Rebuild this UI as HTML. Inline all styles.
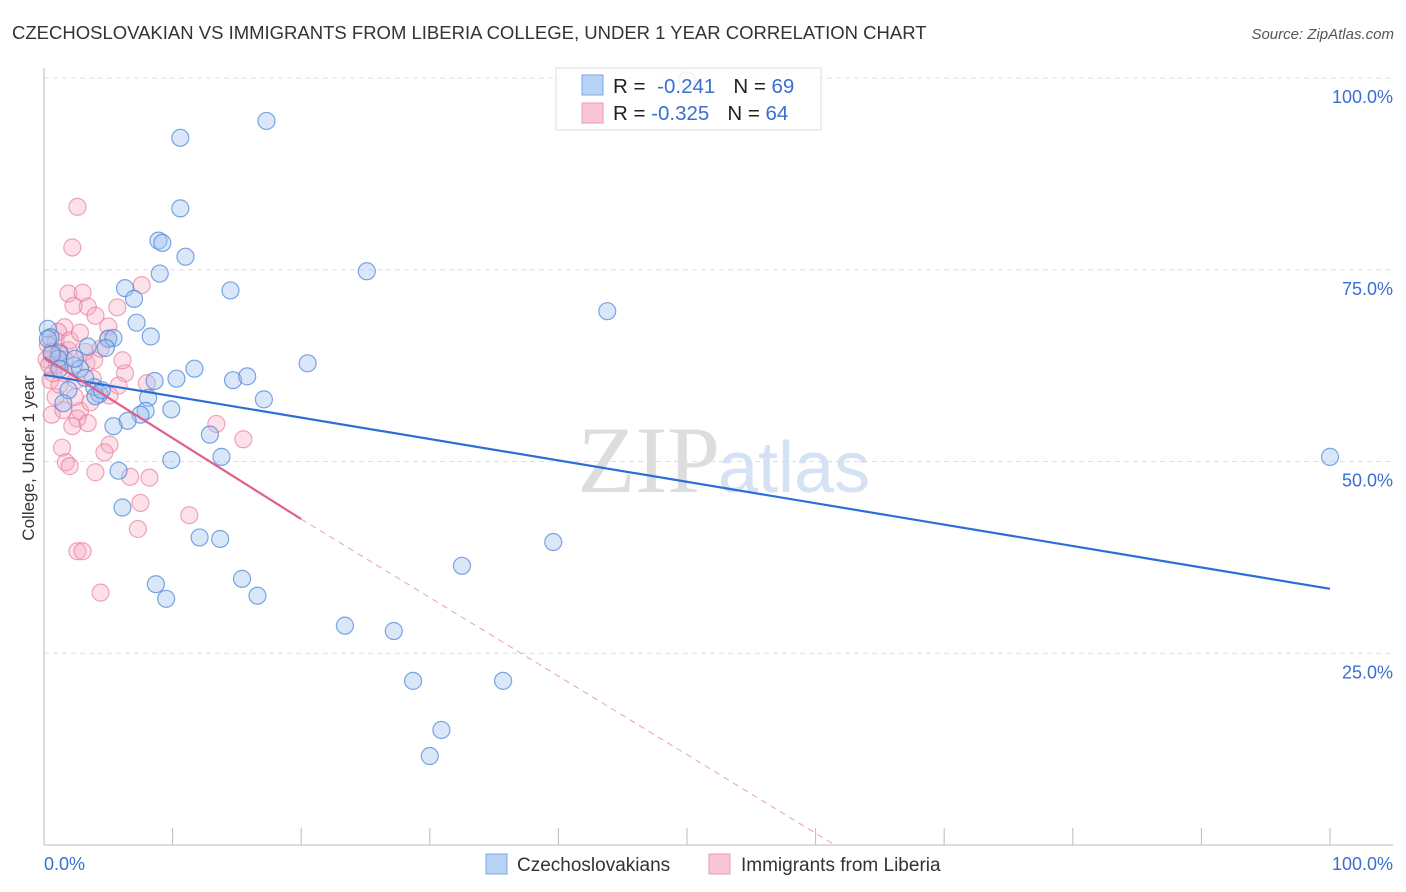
<!DOCTYPE html>
<html><head><meta charset="utf-8"><style>
body{margin:0;background:#fff;font-family:"Liberation Sans",sans-serif}
svg{display:block}
</style></head><body>
<svg id="chart" width="1406" height="892">
<text x="12" y="39" font-size="18.5" fill="#333">CZECHOSLOVAKIAN VS IMMIGRANTS FROM LIBERIA COLLEGE, UNDER 1 YEAR CORRELATION CHART</text>
<text x="1394" y="39" font-size="15" fill="#555" font-style="italic" text-anchor="end">Source: ZipAtlas.com</text>
<text x="34" y="458" font-size="17" fill="#333" text-anchor="middle" transform="rotate(-90 34 458)">College, Under 1 year</text>
<text x="720" y="492" font-size="95" fill="#ddd" text-anchor="end" font-family="Liberation Serif,serif">ZIP</text>
<text x="718" y="492" font-size="72" fill="#d4e2f4">atlas</text>
<g id="grid"></g><g id="pts"></g><g id="lines"></g>
<g>
<rect x="556" y="68" width="265" height="62" fill="rgba(255,255,255,0.85)" stroke="#ddd"/>
<rect x="582" y="75" width="21" height="20" fill="#b8d3f5" stroke="#7aa7e0"/>
<rect x="582" y="103" width="21" height="20" fill="#f9c6d4" stroke="#ec9ab3"/>
<text x="613" y="93" font-size="20.5" fill="#222">R = <tspan fill="#3a6fd0" dx="6">-0.241</tspan><tspan dx="18" fill="#222">N = </tspan><tspan fill="#3a6fd0">69</tspan></text>
<text x="613" y="120" font-size="20.5" fill="#222">R = <tspan fill="#3a6fd0">-0.325</tspan><tspan dx="18" fill="#222">N = </tspan><tspan fill="#3a6fd0">64</tspan></text>
</g>
<g>
<rect x="486" y="854" width="21" height="20" fill="#b8d3f5" stroke="#7aa7e0"/>
<text x="517" y="871" font-size="19" fill="#333">Czechoslovakians</text>
<rect x="709" y="854" width="21" height="20" fill="#f9c6d4" stroke="#ec9ab3"/>
<text x="741" y="871" font-size="19" fill="#333">Immigrants from Liberia</text>
</g>
<text x="44" y="870" font-size="18" fill="#3a6fd0">0.0%</text>
<text x="1393" y="870" font-size="18" fill="#3a6fd0" text-anchor="end">100.0%</text>
</svg>
<script>
const yTicks=[100,75,50,25];
const yTickLabels=["100.0%","75.0%","50.0%","25.0%"];
const xTicks=[0,10,20,30,40,50,60,70,80,90,100];
const blueX=[50.0,17.3,10.6,10.6,8.9,9.2,11.0,9.0,25.1,14.5,6.3,7.0,43.8,7.2,8.3,0.3,0.5,5.0,5.4,3.4,4.8,1.2,1.1,20.5,11.7,2.3,2.8,10.3,8.6,14.7,15.8,3.9,4.3,4.0,1.9,8.1,17.1,9.9,7.9,7.5,6.5,5.4,12.9,13.8,9.9,5.8,100,6.1,12.1,13.7,39.6,32.5,8.7,15.4,9.5,16.6,23.4,27.2,28.7,35.7,30.9,30.0,1.5,0.3,0.6,3.2,4.5,1.2,2.4];
const blueY=[99.7,94.4,92.2,83.0,78.8,78.5,76.7,74.5,74.8,72.3,72.6,71.2,69.6,68.1,66.3,67.3,66.2,66.0,66.1,65.0,64.8,64.1,63.4,62.8,62.1,62.5,62.1,60.8,60.5,60.6,61.1,59.7,58.8,58.5,59.3,58.3,58.1,56.8,56.6,56.1,55.3,54.6,53.5,50.6,50.2,48.8,50.6,44.0,40.1,39.9,39.5,36.4,34.0,34.7,32.1,32.5,28.6,27.9,21.4,21.4,15.0,11.6,57.6,66.0,64.0,60.9,59.3,62.1,63.4];
const pinkX=[2.6,2.2,7.6,1.9,3.0,3.4,2.3,5.7,4.0,1.6,5.0,0.9,0.3,0.6,1.2,1.9,3.2,0.2,1.0,3.3,1.6,6.3,0.5,3.8,2.5,5.8,8.0,0.9,0.6,2.8,1.5,2.6,2.2,3.4,5.1,4.7,1.4,1.7,2.0,4.0,6.7,8.2,13.4,15.5,7.5,7.3,11.3,2.6,3.0,4.4,5.0,1.1,0.4,1.2,2.4,3.6,5.1,2.0,3.9,0.7,1.6,4.4,2.8,6.1];
const pinkY=[83.2,77.9,73.0,71.9,72.0,70.2,70.3,70.1,69.0,67.5,67.6,65.8,65.2,64.3,64.3,64.5,64.3,63.3,62.6,62.8,61.5,61.5,60.6,60.8,60.6,59.9,60.2,58.4,56.1,56.6,56.7,55.6,54.6,55.0,52.2,51.2,51.8,49.9,49.4,48.6,48.0,47.9,54.9,52.9,44.6,41.2,43.0,38.3,38.3,32.9,66.0,66.9,62.6,60.0,58.4,57.7,58.6,65.8,63.2,61.5,63.3,64.7,66.8,63.2];
const blueLine=[[0,61.3],[100,33.4]];
const pinkSolid=[[0,63.6],[20,42.5]];
const pinkDash=[[20,42.5],[61.5,0]];
const X=v=>44+v*12.86, Y=v=>845-v*7.67;
const NS="http://www.w3.org/2000/svg";
function mk(tag,attrs,parent){const e=document.createElementNS(NS,tag);for(const k in attrs)e.setAttribute(k,attrs[k]);parent.appendChild(e);return e;}
const grid=document.getElementById('grid');
yTicks.forEach((t,i)=>{
 const l=mk('line',{x1:44,x2:1393,y1:Y(t),y2:Y(t),stroke:'#ddd','stroke-dasharray':'5,4'},grid);
 
 
 const tx=mk('text',{x:1393,y:Y(t)+25,'font-size':18,fill:'#3a6fd0','text-anchor':'end'},grid);
 tx.textContent=yTickLabels[i];
 
 
});
const ax=mk('line',{x1:44,x2:44,y1:68,y2:845,stroke:'#bbb'},grid);


const bx=mk('line',{x1:44,x2:1393,y1:845,y2:845,stroke:'#bbb'},grid);


xTicks.forEach(t=>{
 const l=mk('line',{x1:X(t),x2:X(t),y1:828,y2:845,stroke:'#bbb'},grid);
 
 
});
const pts=document.getElementById('pts');
pinkX.forEach((x,i)=>{
 const c=mk('circle',{cx:X(x),cy:Y(pinkY[i]),r:8.5,fill:'rgba(246,170,192,0.35)',stroke:'rgba(232,120,155,0.65)','stroke-width':1.2},pts);
 
 
});
blueX.forEach((x,i)=>{
 const c=mk('circle',{cx:X(x),cy:Y(blueY[i]),r:8.5,fill:'rgba(160,195,240,0.4)',stroke:'rgba(70,130,215,0.7)','stroke-width':1.2},pts);
 
 
});
const lines=document.getElementById('lines');
let l1=mk('line',{x1:X(blueLine[0][0]),y1:Y(blueLine[0][1]),x2:X(blueLine[1][0]),y2:Y(blueLine[1][1]),stroke:'#2b6fd6','stroke-width':2.2},lines);


let l2=mk('line',{x1:X(pinkSolid[0][0]),y1:Y(pinkSolid[0][1]),x2:X(pinkSolid[1][0]),y2:Y(pinkSolid[1][1]),stroke:'#e0608a','stroke-width':2.2},lines);


let l3=mk('line',{x1:X(pinkDash[0][0]),y1:Y(pinkDash[0][1]),x2:X(pinkDash[1][0]),y2:Y(pinkDash[1][1]),stroke:'#eaa0b8','stroke-width':1,'stroke-dasharray':'6,5'},lines);


</script>
</body></html>
